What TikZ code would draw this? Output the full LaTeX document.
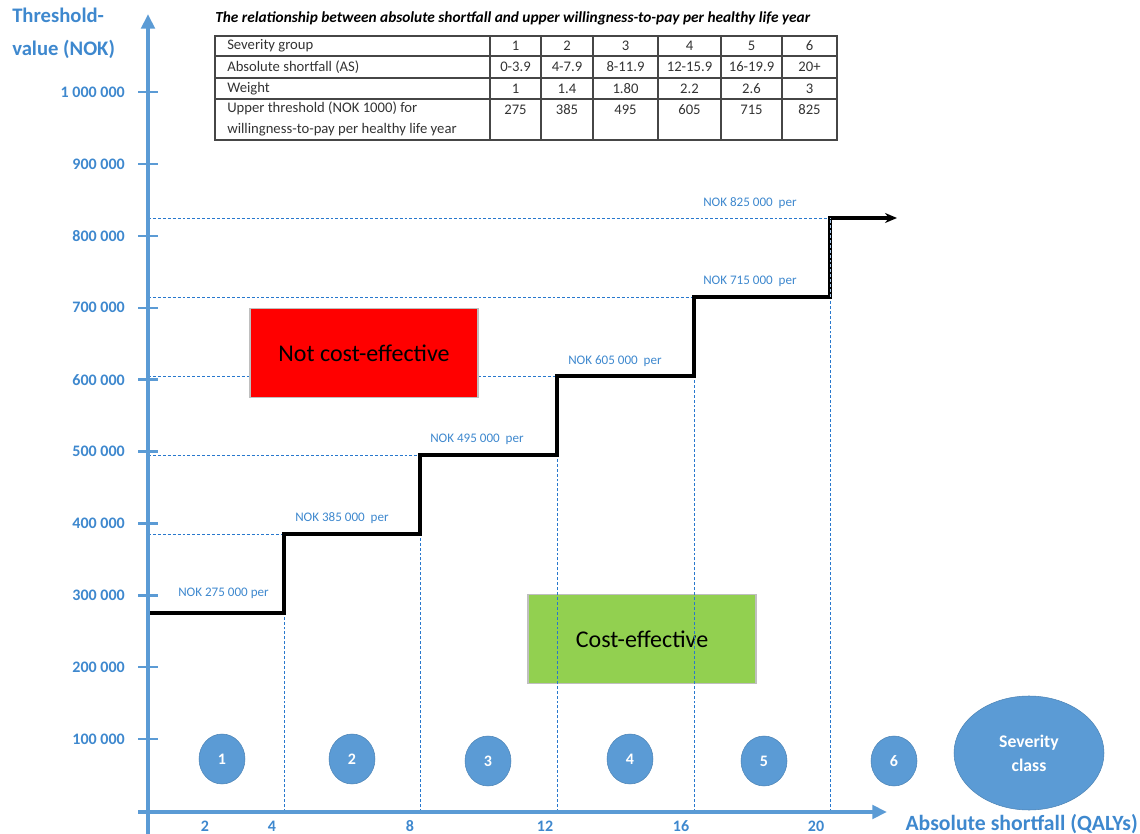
\documentclass[tikz,border=0pt]{standalone}
\usepackage{fontspec}
\setmainfont{Carlito}
\usetikzlibrary{arrows.meta,shapes.geometric}
\definecolor{axisblue}{RGB}{91,155,213}
\definecolor{labelblue}{RGB}{62,136,206}
\definecolor{guideblue}{RGB}{40,120,205}
\definecolor{okgreen}{RGB}{146,208,80}
\definecolor{gridgray}{RGB}{70,70,70}
\begin{document}
\begin{tikzpicture}[x=0.75pt,y=-0.75pt,
  axisline/.style={draw=axisblue, line width=3pt, -{Triangle[length=11pt,width=10pt]}},
  tickmark/.style={draw=axisblue, line width=1.8pt},
  ticklabel/.style={text=labelblue, font=\fontsize{12}{14}\selectfont\bfseries, inner sep=0pt},
  axistitle/.style={text=labelblue, font=\fontsize{15.5}{24.75}\selectfont\bfseries, inner sep=0pt, align=left},
  guide/.style={draw=guideblue, line width=0.7pt, dash pattern=on 2.2pt off 1.5pt},
  stepline/.style={draw=black, line width=2.3pt, line join=miter},
  noklabel/.style={text=labelblue, font=\fontsize{9.8}{11}\selectfont, inner sep=0pt, anchor=west},
  zonebox/.style={minimum width=171pt, minimum height=66.75pt, draw=black!25, line width=0.8pt,
                  font=\fontsize{18}{20}\selectfont, inner sep=0pt},
  classdot/.style={ellipse, fill=axisblue, draw=axisblue!85!black, line width=0.4pt, text=white,
                   minimum width=34.5pt, minimum height=37.5pt, inner sep=0pt,
                   font=\fontsize{12}{14}\selectfont\bfseries},
  tabcell/.style={font=\fontsize{11}{15.75}\selectfont, text=black!80, inner sep=0pt},
  tabline/.style={draw=gridgray, line width=1pt}
]
\useasboundingbox (0,0) rectangle (1140,834);

% ---- table of thresholds ----
\node[anchor=west, inner sep=0pt, font=\fontsize{11.5}{13}\selectfont\bfseries\itshape] (tabtitle) at (215,18)
  {The relationship between absolute shortfall and upper willingness-to-pay per healthy life year};
\draw[tabline] (215,36) rectangle (837,140);
\foreach \yy in {56,78,99} \draw[tabline] (215,\yy) -- (837,\yy);
\foreach \xx in {490,541,593,658,721,782} \draw[tabline] (\xx,36) -- (\xx,140);
\node[tabcell, anchor=west] (r1) at (227,46) {Severity group};
\node[tabcell, anchor=west] (r2) at (227,67) {Absolute shortfall (AS)};
\node[tabcell, anchor=west] (r3) at (227,88.5) {Weight};
\node[tabcell, anchor=north west, align=left] (r4) at (227,102)
  {Upper threshold (NOK 1000) for\\willingness-to-pay per healthy life year};
\foreach \cx/\g/\as/\w/\u [count=\i] in {515.5/1/0-3.9/1/275, 567/2/4-7.9/1.4/385, 625.5/3/8-11.9/1.80/495,
    689.5/4/12-15.9/2.2/605, 751.5/5/16-19.9/2.6/715, 809.5/6/20+/3/825} {
  \node[tabcell] (g\i) at (\cx,46) {\g};
  \node[tabcell] (as\i) at (\cx,67) {\as};
  \node[tabcell] (w\i) at (\cx,88.5) {\w};
  \node[tabcell] (u\i) at (\cx,110) {\u};
}

% ---- cost-effective zone (under the guides) ----
\node[zonebox, fill=okgreen] (ce) at (642,639) {Cost-effective};

% ---- step corners ----
\coordinate (s0) at (148,613);
\coordinate (a1) at (284,613);  \coordinate (b1) at (284,534);
\coordinate (a2) at (420,534);  \coordinate (b2) at (420,455);
\coordinate (a3) at (557,455);  \coordinate (b3) at (557,376);
\coordinate (a4) at (694,376);  \coordinate (b4) at (694,297);
\coordinate (a5) at (830,297);  \coordinate (b5) at (830,218);
\coordinate (send) at (897,218);

% ---- dashed guides ----
\foreach \c in {a1,b1,b2,b3,b4,b5} \draw[guide] (148,0 |- \c) -- (\c);
\foreach \c in {b1,b2,b3,b4,b5} \draw[guide] (\c |- 0,812) -- (\c);

% ---- threshold step function ----
\draw[stepline, -{Stealth[length=9pt,width=7.5pt]}]
  (s0) -- (a1) -- (b1) -- (a2) -- (b2) -- (a3) -- (b3) -- (a4) -- (b4) -- (a5) -- (b5) -- (send);
\draw[guide, draw=white!60!guideblue] (a5) -- (b5);

% ---- threshold labels ----
\node[noklabel] (n1) at (178,593) {NOK 275 000 per};
\node[noklabel] (n2) at (295,518) {NOK 385 000\ \ per};
\node[noklabel] (n3) at (430,439) {NOK 495 000\ \ per};
\node[noklabel] (n4) at (568,361) {NOK 605 000\ \ per};
\node[noklabel] (n5) at (703,281) {NOK 715 000\ \ per};
\node[noklabel] (n6) at (703,203) {NOK 825 000\ \ per};

% ---- not cost-effective zone (over the guides) ----
\node[zonebox, fill=red] (nce) at (364,353) {Not cost-effective};

% ---- axes ----
\coordinate (yb) at (148,834); \coordinate (yt) at (148,14);
\coordinate (xl) at (138,812); \coordinate (xr) at (887,812);
\draw[axisline] (yb) -- (yt);
\draw[axisline] (xl) -- (xr);
\node[axistitle, anchor=north west] (ytitle) at (12,8) {Threshold-\\value (NOK)};
\node[ticklabel, anchor=east, font=\fontsize{16.3}{18}\selectfont\bfseries] (xtitle) at (1138,824) {Absolute shortfall (QALYs)};

\foreach \v/\t in {1/100 000,2/200 000,3/300 000,4/400 000,5/500 000,6/600 000,7/700 000,8/800 000,9/900 000,10/1 000 000} {
  \draw[tickmark] (138,811-71.89*\v) -- (158,811-71.89*\v);
  \node[ticklabel, anchor=east] (yl\v) at (125,811-71.89*\v) {\t};
}
\foreach \xx/\t in {205/2,272/4,410/8,545/12,681/16,816/20}
  \node[ticklabel] (xl\t) at (\xx,826) {\t};

% ---- severity classes ----
\node[classdot] (c1) at (222,759) {1};
\node[classdot] (c2) at (352,759) {2};
\node[classdot] (c3) at (488,761) {3};
\node[classdot] (c4) at (630,759) {4};
\node[classdot] (c5) at (764,761) {5};
\node[classdot] (c6) at (894,761) {6};
\node[classdot, minimum width=112.5pt, minimum height=85.5pt, align=center,
      font=\fontsize{13.3}{18}\selectfont\bfseries] (cls) at (1029,753) {Severity\\class};
\end{tikzpicture}
\end{document}
